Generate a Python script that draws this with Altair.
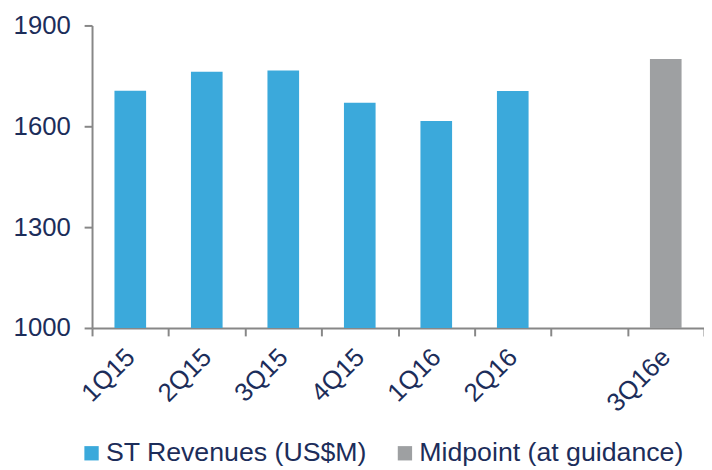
import altair as alt
import pandas as pd

quarters = ["1Q15", "2Q15", "3Q15", "4Q15", "1Q16", "2Q16", "3Q16e"]
values = [1706, 1762, 1766, 1670, 1616, 1705, 1800]
series = ["ST Revenues (US$M)"] * 6 + ["Midpoint (at guidance)"]
x_domain = ["1Q15", "2Q15", "3Q15", "4Q15", "1Q16", "2Q16", "", "3Q16e"]
series_names = ["ST Revenues (US$M)", "Midpoint (at guidance)"]
series_colors = ["#3ba9db", "#9ea0a2"]
y_ticks = [1000, 1300, 1600, 1900]

df = pd.DataFrame({"quarter": quarters, "value": values, "series": series})

FONT = "Liberation Sans"
TEXT = "#1c2d5a"
AXIS = "#878787"

chart = alt.Chart(df).mark_bar(size=32).encode(
    x=alt.X("quarter:N", sort=x_domain,
            scale=alt.Scale(domain=x_domain, paddingInner=0, paddingOuter=0),
            axis=alt.Axis(title=None, labelAngle=-45, labelAlign="right",
                          labelBaseline="middle", labelPadding=17,
                          tickBand="extent", tickSize=8, tickWidth=2,
                          domainWidth=2, labelFontSize=26)),
    y=alt.Y("value:Q",
            scale=alt.Scale(domain=[1000, 1900], zero=False, nice=False),
            axis=alt.Axis(title=None, values=y_ticks, format="d", tickSize=8,
                          tickWidth=2, domainWidth=2, labelPadding=14,
                          grid=False, labelFontSize=26)),
    y2=alt.datum(1000),
    color=alt.Color("series:N",
                    scale=alt.Scale(domain=series_names, range=series_colors),
                    legend=alt.Legend(title=None, orient="none", direction="horizontal",
                                      legendX=-14, legendY=419,
                                      symbolType="square", symbolSize=210,
                                      symbolStrokeWidth=0, labelOffset=1,
                                      columnPadding=24, labelFontSize=27,
                                      labelFont=FONT, labelColor=TEXT,
                                      labelLimit=400)),
).properties(
    width=619, height=306,
    autosize=alt.AutoSizeParams(type="none"),
    padding={"left": 85, "top": 15, "right": 0, "bottom": 140},
).configure_view(stroke=None).configure_axis(
    labelFont=FONT, labelColor=TEXT,
    domainColor=AXIS, tickColor=AXIS,
)

chart.save("out.html", embed_options={"renderer": "svg", "actions": False})
